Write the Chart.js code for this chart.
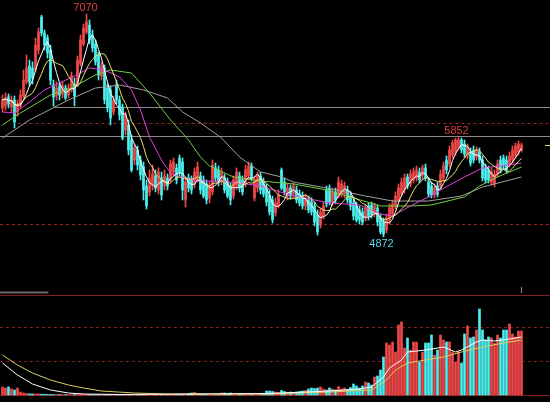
<!DOCTYPE html>
<html>
<head>
<meta charset="utf-8">
<script src="https://cdn.jsdelivr.net/npm/chart.js@4.4.1/dist/chart.umd.min.js"></script>
<style>
  html, body { margin: 0; padding: 0; background: #000; }
  canvas { display: block; }
</style>
</head>
<body>
<canvas id="kline" width="550" height="402"></canvas>
<script>
// daily candles, oldest first
const openP = [6143,6163,6252,6153,6222,6104,6163,6261,6400,6557,6538,6518,6715,7040,6883,6833,6715,6370,6261,6360,
  6281,6340,6271,6321,6380,6380,6577,6774,6892,6961,6863,6774,6666,6459,6538,6340,6321,6104,6370,6222,
  6153,5926,5976,5828,5630,5729,5630,5561,5374,5315,5374,5473,5335,5453,5374,5453,5433,5512,5552,5650,
  5611,5236,5453,5433,5394,5433,5473,5433,5394,5256,5315,5552,5532,5413,5453,5413,5364,5275,5374,5473,
  5433,5394,5473,5571,5256,5354,5473,5413,5354,5285,5236,5108,5177,5532,5413,5275,5354,5295,5335,5295,
  5275,5177,5236,5216,5177,5088,4990,5078,5335,5354,5216,5315,5275,5295,5295,5335,5275,5206,5177,5137,
  5118,5058,5177,5187,5098,5157,5058,5019,4940,5039,5098,5177,5236,5295,5335,5463,5394,5433,5453,5512,
  5473,5552,5413,5374,5285,5374,5374,5453,5630,5591,5680,5709,5749,5828,5788,5670,5709,5729,5660,5709,
  5630,5552,5532,5413,5394,5492,5630,5650,5630,5591,5630,5670,5709,5729];
const highP = [6271,6291,6281,6261,6261,6222,6321,6518,6666,6616,6597,6833,6932,7058,6912,6863,6764,6419,6400,6380,
  6400,6370,6380,6498,6439,6656,6863,6971,7070,7011,6912,6814,6695,6597,6567,6380,6360,6261,6419,6261,
  6183,6104,6025,5877,5788,5768,5670,5611,5433,5532,5581,5532,5552,5512,5532,5492,5630,5650,5591,5680,
  5650,5453,5492,5473,5552,5611,5512,5473,5433,5413,5630,5601,5571,5552,5492,5453,5404,5473,5552,5512,
  5473,5581,5611,5601,5473,5512,5512,5453,5394,5335,5275,5256,5335,5552,5453,5394,5384,5404,5374,5335,
  5315,5295,5275,5256,5216,5137,5157,5216,5374,5384,5354,5354,5463,5433,5413,5374,5315,5246,5216,5177,
  5157,5187,5206,5216,5206,5187,5098,5058,5098,5197,5236,5315,5394,5453,5492,5492,5532,5552,5571,5552,
  5581,5591,5453,5413,5394,5413,5532,5611,5670,5768,5828,5845,5852,5847,5828,5788,5749,5768,5758,5749,
  5670,5591,5571,5552,5532,5630,5670,5680,5670,5709,5768,5798,5818,5798];
const lowP = [6104,6123,6143,6104,5946,6064,6143,6242,6380,6360,6380,6498,6676,6853,6715,6636,6370,6163,6222,6222,
  6242,6222,6242,6301,6163,6360,6557,6754,6873,6774,6695,6567,6419,6419,6183,6104,5976,6074,6183,6025,
  5828,5877,5680,5512,5581,5532,5433,5236,5147,5275,5335,5315,5295,5236,5335,5335,5413,5473,5394,5473,
  5236,5167,5315,5295,5354,5413,5295,5256,5197,5206,5285,5413,5374,5384,5305,5256,5187,5246,5335,5315,
  5285,5364,5433,5423,5226,5315,5295,5266,5177,5088,5009,5078,5157,5335,5285,5236,5246,5256,5206,5177,
  5147,5137,5108,5088,4980,4890,4960,5049,5167,5187,5177,5197,5256,5266,5256,5206,5137,5039,5019,4999,
  4990,5029,5039,5058,5068,4980,4901,4872,4911,4999,5068,5147,5216,5275,5305,5345,5364,5404,5423,5404,
  5433,5423,5266,5256,5256,5266,5345,5423,5492,5561,5650,5680,5729,5700,5660,5640,5571,5601,5630,5601,
  5423,5404,5404,5384,5364,5463,5502,5542,5502,5561,5601,5650,5680,5709];
const closeP = [6222,6242,6183,6222,6005,6183,6271,6419,6538,6400,6439,6764,6892,6883,6764,6685,6419,6252,6340,6271,
  6360,6242,6340,6459,6261,6616,6814,6932,6991,6814,6735,6597,6469,6557,6222,6143,6045,6222,6222,6074,
  5847,6074,5729,5532,5749,5581,5483,5335,5177,5453,5492,5354,5512,5285,5473,5374,5591,5611,5433,5512,
  5335,5413,5354,5335,5512,5561,5335,5275,5236,5374,5581,5453,5413,5512,5335,5275,5236,5433,5512,5354,
  5315,5532,5571,5453,5433,5473,5335,5295,5216,5118,5039,5206,5285,5354,5315,5354,5275,5374,5236,5206,
  5177,5256,5137,5118,5019,4921,5118,5177,5197,5216,5315,5236,5413,5394,5374,5236,5177,5078,5039,5039,
  5019,5157,5078,5088,5177,5019,4921,4901,5058,5157,5197,5275,5354,5413,5453,5374,5492,5512,5532,5433,
  5552,5453,5295,5285,5354,5295,5492,5571,5532,5729,5798,5828,5828,5729,5690,5758,5601,5630,5729,5630,
  5453,5433,5433,5512,5492,5591,5532,5571,5532,5670,5729,5768,5788,5778];
const volume = [80,70,80,60,50,70,30,20,
  15,12,10,10,12,8,8,6,6,5,5,5,4,4,4,4,5,5,6,6,5,5,
  5,4,4,4,4,5,5,4,4,4,3,3,3,3,4,4,3,3,3,3,3,3,3,4,4,3,3,3,3,3,
  3,3,15,20,25,15,10,5,4,4,3,3,5,20,20,15,20,5,4,5,5,15,10,5,5,5,4,10,40,40,35,
  30,25,45,35,25,30,25,30,35,40,45,60,70,65,70,80,60,50,70,60,50,85,60,70,55,75,110,90,70,90,130,120,100,180,190,250,380,
  520,500,530,430,700,730,470,570,450,530,530,330,430,520,520,600,400,450,600,550,
  530,530,430,330,430,320,610,690,570,580,650,860,650,550,580,570,520,600,570,650,
  650,710,610,580,640,640];

// longer moving averages at candle indices
const ma20Idx = [0,4,9,14,19,24,29,34,39,43,46,49,53,56,59,66,73,79,86,96,109,119,126,130,136,142,149,154,160,166,173];
const ma20Val = [6104,6094,6202,6321,6390,6459,6538,6518,6449,6321,6123,5857,5630,5502,5463,5423,5423,5404,5374,5285,5206,5187,5098,5078,5177,5266,5384,5463,5552,5571,5601];
const ma30Idx = [0,6,16,23,31,36,43,49,56,62,66,69,77,86,97,108,117,126,136,143,154,159,165,173];
const ma30Val = [5976,6094,6271,6340,6469,6518,6488,6291,6025,5828,5660,5571,5463,5423,5394,5335,5256,5177,5177,5187,5266,5374,5463,5561];
const ma60Idx = [0,9,22,31,39,47,55,60,66,73,79,86,93,97,108,121,130,142,153,160,173];
const ma60Val = [5847,6025,6222,6340,6370,6321,6242,6104,5995,5847,5660,5512,5463,5413,5354,5275,5226,5226,5275,5364,5463];
const volMa5Idx = [0,5,10,16,22,27,39,89,109,119,123,127,129,133,135,141,147,151,153,158,160,164,169,173];
const volMa5Val = [320,200,110,50,20,10,5,15,40,60,80,180,270,350,430,450,480,430,450,530,550,540,560,580];
const volMa10Idx = [0,5,10,16,22,27,33,44,55,89,109,123,128,131,135,141,147,153,160,167,171,173];
const volMa10Val = [400,300,220,150,100,70,40,20,10,10,30,50,150,250,320,350,380,430,480,520,540,550];

const markIdx = [28, 152, 127]; // highs at 28 and 152, low at 127

const UP = '#f04848', DOWN = '#4cf0f0';
const isUp = closeP.map((c, i) => c >= openP[i]);
const candleColor = isUp.map(u => u ? UP : DOWN);

function movingAvg(arr, w) {
  return arr.map((_, i) => {
    const s = Math.max(0, i - w + 1);
    let t = 0;
    for (let k = s; k <= i; k++) t += arr[k];
    return t / (i - s + 1);
  });
}
const ma5 = movingAvg(closeP, 5);
const ma10 = movingAvg(closeP, 10);
const pts = (xs, ys) => xs.map((x, k) => ({ x, y: ys[k] }));
const seq = ys => ys.map((y, i) => ({ x: i, y }));

const line = (data, color, axis) => ({
  type: 'line', data, yAxisID: axis, borderColor: color, borderWidth: 1,
  pointRadius: 0, tension: 0, order: 0
});

const guides = {
  id: 'guides',
  beforeDatasetsDraw(chart) {
    const { ctx, scales: { x, p, v } } = chart;
    const L = x.left, R = x.right;
    const hline = (y, x0, x1, color, dash, w) => {
      ctx.save();
      ctx.strokeStyle = color; ctx.lineWidth = w || 1; ctx.setLineDash(dash || []);
      ctx.beginPath(); ctx.moveTo(x0, Math.round(y) + 0.5); ctx.lineTo(x1, Math.round(y) + 0.5); ctx.stroke();
      ctx.restore();
    };
    hline(p.getPixelForValue(6156), x.getPixelForValue(17), R, '#8c8c8c');
    hline(p.getPixelForValue(5867), L, R, '#8c8c8c');
    hline(p.getPixelForValue(6000), x.getPixelForValue(5), R, '#a02424', [3, 3]);
    hline(p.getPixelForValue(5000), L, R, '#a02424', [3, 3]);
    hline(v.getPixelForValue(1005), L, R, '#8a1c1c');
    hline(v.getPixelForValue(0), L, R, '#8a1c1c');
    hline(v.getPixelForValue(680), L, R, '#8a1c1c', [3, 3]);
    hline(v.getPixelForValue(340), L, R, '#8a1c1c', [3, 3]);
    hline(v.getPixelForValue(1030), L, x.getPixelForValue(15.3), '#6a6a6a', [], 2);
    ctx.save();
    ctx.strokeStyle = '#8a8a8a';
    const tx = Math.round(x.getPixelForValue(172.8)) + 0.5;
    ctx.beginPath(); ctx.moveTo(tx, v.getPixelForValue(1080)); ctx.lineTo(tx, v.getPixelForValue(1020)); ctx.stroke();
    ctx.restore();
  },
  afterDatasetsDraw(chart) {
    const { ctx, scales: { x, p } } = chart;
    ctx.save();
    ctx.font = '11px "Liberation Sans", Arial, sans-serif';
    ctx.textAlign = 'center';
    const [h1, h2, lo] = markIdx;
    ctx.fillStyle = '#d84040';
    ctx.textBaseline = 'bottom';
    ctx.fillText(String(highP[h1]), x.getPixelForValue(h1) - 1, p.getPixelForValue(highP[h1]) - 1);
    ctx.fillText(String(highP[h2]), x.getPixelForValue(h2) - 2, p.getPixelForValue(highP[h2]) - 1);
    ctx.fillStyle = '#58d8e8';
    ctx.textBaseline = 'top';
    ctx.fillText(String(lowP[lo]), x.getPixelForValue(lo) - 2, p.getPixelForValue(lowP[lo]) + 2);
    // last price marker at the right edge
    const ly = Math.round(p.getPixelForValue(closeP[closeP.length - 1])) + 0.5;
    ctx.strokeStyle = '#e8d060';
    ctx.beginPath(); ctx.moveTo(x.right - 5, ly); ctx.lineTo(x.right, ly); ctx.stroke();
    ctx.restore();
  }
};

new Chart(document.getElementById('kline'), {
  type: 'bar',
  data: {
    datasets: [
      line(seq(ma5), '#ffffff', 'p'),
      line(seq(ma10), '#e8e070', 'p'),
      line(pts(ma20Idx, ma20Val), '#e040e0', 'p'),
      line(pts(ma30Idx, ma30Val), '#70d040', 'p'),
      line(pts(ma60Idx, ma60Val), '#a0a0a0', 'p'),
      line(pts(volMa5Idx, volMa5Val), '#ffffff', 'v'),
      line(pts(volMa10Idx, volMa10Val), '#d8d060', 'v'),
      {
        data: lowP.map((l, i) => ({ x: i, y: [l, highP[i]] })),
        yAxisID: 'p', backgroundColor: candleColor, barThickness: 1,
        grouped: false, order: 2
      },
      {
        data: openP.map((o, i) => ({ x: i, y: [o, closeP[i]] })),
        yAxisID: 'p', backgroundColor: candleColor, barThickness: 2,
        grouped: false, order: 1
      },
      {
        data: volume.map((vv, i) => ({ x: i, y: vv })),
        yAxisID: 'v', backgroundColor: candleColor, barThickness: 2,
        grouped: false, order: 3
      }
    ]
  },
  options: {
    responsive: false,
    animation: false,
    layout: { padding: 0 },
    plugins: { legend: { display: false }, tooltip: { enabled: false } },
    scales: {
      x: { type: 'linear', min: -0.8333, max: 182.5, offset: false, display: false },
      p: { type: 'linear', min: 3244, max: 7208, display: false },
      v: { type: 'linear', min: -70, max: 3950, display: false }
    }
  },
  plugins: [guides]
});
</script>
</body>
</html>
